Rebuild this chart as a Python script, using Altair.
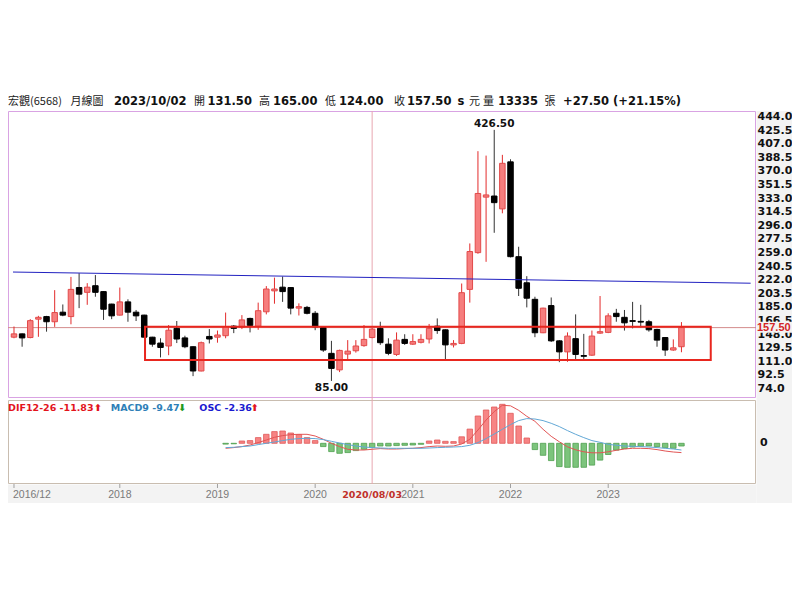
import altair as alt
import pandas as pd
import numpy as np

# ---------------- data (monthly candles 2016/12 .. 2023/10) ----------------
first_month = "2016-12-01"
opens = [144.5,149,144,169,172.5,165.5,178.5,172.5,212,205.5,
         214.5,206.5,189.5,174.5,192.5,178.5,174.5,144.5,136.5,132.5,
         156.5,143.5,131.5,98.5,145.5,144.5,146.5,159.5,158,170,
         159.5,179,207.5,212.5,212,184,185,177,157.5,122.5,
         100,121.5,126,133,144,156.5,135,121,141.5,135,
         137.5,142,159.5,154.5,134,136,209.5,259.5,335,336.5,
         319,383,254,218.5,196,150.5,187.5,139.5,124.5,142.5,
         119.5,120,150,151,177,171.5,167,166,165.5,155,
         144,127,131.5]
highs = [159,149.5,169,173.5,173.5,208.5,189,226.5,231.5,218,
         229,207,190,212,196,181.5,175,145,143,161,
         166.5,146.5,132,138.5,155.5,153.5,178,161,174.5,171,
         191.5,214,225.5,227,212.5,190.5,187,180,158,139.5,
         127.5,140.5,140.5,161,157,165.5,143,151,148.5,148.5,
         148.5,162.5,170,155,140.5,217.5,272,397.5,391.5,426.5,
         392.5,386.5,267.5,227.5,199.5,184.5,198.5,140.5,151,175.5,
         149,153.5,200.5,177,183,181.5,192.5,188.5,168,156,
         144.5,141.5,165]
lows = [143,131.5,143,145,152,158.5,173,162,184,188.5,
        199.5,168,169,174,165.5,166.5,144,131.5,117,120,
        136.5,129.5,91.5,98,136,137,143,150,155.5,151,
        154.5,175.5,190,192.5,175.5,174,175.5,154,124.5,85,
        97,113.5,123.5,131.5,143,134,120,119,134,134,
        136,136,149,112.5,130.5,135,191.5,258,247,286.5,
        313,253,200.5,185,144.5,150,138,110.5,111,113.5,
        114,119,149,150,165.5,153.5,156.5,158,152,131.5,
        119,126,124]
closes = [149,143.5,167,171.5,165.5,178,174.5,209.5,203,212.5,
          205.5,182.5,173.5,192.5,178.5,173.5,144.5,135,130.5,154,
          142,131.5,98.5,137,142,147.5,158.5,156.5,168,160.5,
          180.5,210,210,206.5,184,186,177,158.5,127,102,
          126.5,125.5,132.5,141.5,155.5,137,122.5,140.5,136,138.5,
          141.5,156.5,153.5,134,136,205,261,340,338,327.5,
          381,254,211,197.5,150.5,184,139.5,124.5,146,121,
          118.5,146,152,173.5,172.5,164,166,165,154.5,140.5,
          127,130,157.5]

# MACD panel (starts at month index 26)
macd_start = 26
dif = [-5,-4.3,-3.3,-1.7,0.7,3.3,6,7.7,8.7,9,9,7.3,4,0,-3.3,-6,-6.7,-6.7,-6,-5.3,
       -5.7,-5.7,-5.3,-5,-4.3,-3.3,-2.7,-3,-2.7,-0.7,4,13.3,23.3,31.7,38,37.5,33,27,22,14,
       7,1.5,-3.5,-6.5,-8.5,-9.5,-9.5,-8.5,-7,-5.7,-5,-5,-5.3,-6.3,-7.7,-8.7,-9.3]
macd9 = [-4.3,-4,-3.3,-2.7,-1.3,0,1.3,2.7,4,4.7,5,4.7,3.7,2,0.3,-1.3,-2.7,-3.7,-4.3,-4.7,
         -5,-5,-5,-5,-5,-4.7,-4.3,-4,-3.7,-3.3,-2,0.7,4.7,9.3,14,18.7,22.7,24.7,24.3,22.7,
         20,16.7,12.7,9,5.7,2.7,1,-1,-2,-2.7,-3,-3.3,-3.7,-4.3,-5,-5.7,-6.7]
osc = [-0.8,-0.5,2.3,2.7,5.7,9,11.7,12.3,10.3,8.7,5.7,2.7,-3.3,-8.3,-10,-9.3,-7.3,-6,-4.3,-2.7,
       -2.7,-2.3,-2,-1.7,-1,2.3,3.3,2,1.7,6.5,14.2,27.3,33.3,36.3,39,30,17.3,5.3,-6.3,-12,
       -17.3,-23.3,-24,-24,-24,-21.8,-16.8,-11.2,-6.8,-5.3,-3.7,-3,-2.7,-3.3,-4.3,-5,-2.7]

# overlays
trend_idx = [-0.12, 90.5]
trend_price = [233.1, 217.9]
box_idx = [16.1, 85.6]
box_price = [113.4, 158.7]
cross_idx = 44
cross_label = "2020/08/03"

y_tick_values = [444.0, 425.5, 407.0, 388.5, 370.0, 351.5, 333.0, 314.5, 296.0, 277.5, 259.0,
                 240.5, 222.0, 203.5, 185.0, 166.5, 148.0, 129.5, 111.0, 92.5, 74.0]
x_tick_idx = [0, 13, 25, 37, 49, 61, 73]
x_tick_labels = ["2016/12", "2018", "2019", "2020", "2021", "2022", "2023"]

title_texts = ["宏觀(6568)", "月線圖", "2023/10/02", "開", "131.50", "高", "165.00", "低", "124.00",
               "收", "157.50", "s", "元", "量", "13335", "張", "+27.50 (+21.15%)"]
title_bold = [False, False, True, False, True, False, True, False, True,
              False, True, True, False, False, True, False, True]
title_x = [0, 62.5, 106, 186, 199.5, 251, 265, 317, 331, 386, 399, 449.5, 461, 475, 490, 536.5, 555]

legend_texts = ["DIF12-26 -11.83", "⬆", "MACD9 -9.47", "⬇", "OSC -2.36", "⬆"]
legend_colors = ["#e3141c", "#e3141c", "#2f7fb8", "#1e9a1e", "#1a1ad0", "#e3141c"]
legend_x = [0, 86, 102.7, 170.3, 191.3, 242.7]

# ---------------- frames ----------------
months = pd.date_range(first_month, periods=len(opens), freq="MS").strftime("%Y/%m").tolist()
df = pd.DataFrame({"i": list(range(len(opens))), "month": months, "open": opens,
                   "high": highs, "low": lows, "close": closes})
mdf = pd.DataFrame({"i": list(range(macd_start, macd_start + len(dif))),
                    "dif": dif, "macd": macd9, "osc": osc})

# layout (pixels inside the plot area)
W = 748          # plot width
PH = 287         # price panel height
GAP = 2
MH = 84          # macd panel height
TOT = PH + GAP + MH
PAD_R = 36
BG = "#f3f3f3"

XS = alt.Scale(domain=[-0.121, 90.545], nice=False, zero=False)
YS = alt.Scale(domain=[61.76, 452.16], range=[PH, 0], nice=False, zero=False)
MYS = alt.Scale(domain=[-40.7, 43.3], range=[TOT, PH + GAP], nice=False, zero=False)
one = pd.DataFrame({"k": [0]})


def xi(field="i"):
    return alt.X(f"{field}:Q", scale=XS, axis=None)


def yp(field):
    return alt.Y(f"{field}:Q", scale=YS, axis=None)


def ym(field):
    return alt.Y(f"{field}:Q", scale=MYS, axis=None)


layers = []

# backgrounds of axis areas
layers.append(alt.Chart(one).mark_rect(color=BG).encode(
    x=alt.value(W + 0.5), x2=alt.value(W + PAD_R), y=alt.value(0), y2=alt.value(TOT + 19)))
layers.append(alt.Chart(one).mark_rect(color=BG).encode(
    x=alt.value(0), x2=alt.value(W + 0.5), y=alt.value(TOT + 0.5), y2=alt.value(TOT + 19)))

# panel frames
layers.append(alt.Chart(one).mark_rect(fillOpacity=0, stroke="#d9a3e3", strokeWidth=1).encode(
    x=alt.value(0.5), x2=alt.value(W - 0.5), y=alt.value(0.5), y2=alt.value(PH - 0.5)))
layers.append(alt.Chart(one).mark_rect(fillOpacity=0, stroke="#c9bdb0", strokeWidth=1).encode(
    x=alt.value(0.5), x2=alt.value(W - 0.5), y=alt.value(PH + GAP + 0.5), y2=alt.value(TOT - 0.5)))

# ---------------- price panel ----------------
up = "datum.close >= datum.open"
last_close = closes[-1]

layers.append(alt.Chart(pd.DataFrame({"p": [last_close]})).mark_rule(
    color="#d48c8c", strokeWidth=1).encode(y=yp("p")))
layers.append(alt.Chart(pd.DataFrame({"i": [cross_idx]})).mark_rule(
    color="#e8a6b0", strokeWidth=1).encode(x=xi(), y=alt.value(0), y2=alt.value(TOT)))
layers.append(alt.Chart(df).mark_rule(strokeWidth=1).encode(
    x=xi(), y=yp("low"), y2="high:Q",
    color=alt.condition(up, alt.value("#e32b2b"), alt.value("#333333"))))
layers.append(alt.Chart(df).mark_bar(size=5.5, strokeWidth=1).encode(
    x=xi(), y=yp("open"), y2="close:Q",
    fill=alt.condition(up, alt.value("#f67e7e"), alt.value("#000000")),
    stroke=alt.condition(up, alt.value("#e24a4a"), alt.value("#000000"))))
layers.append(alt.Chart(pd.DataFrame({"x0": [box_idx[0]], "x1": [box_idx[1]],
                                      "p0": [box_price[0]], "p1": [box_price[1]]})).mark_rect(
    fillOpacity=0, stroke="#e8261e", strokeWidth=2).encode(
    x=xi("x0"), x2="x1:Q", y=yp("p0"), y2="p1:Q"))
layers.append(alt.Chart(pd.DataFrame({"i": trend_idx, "p": trend_price})).mark_line(
    color="#2222c0", strokeWidth=1).encode(x=xi(), y=yp("p")))

hi_i = int(np.argmax(highs))
lo_i = int(np.argmin(lows))
layers.append(alt.Chart(pd.DataFrame({"i": [hi_i], "p": [highs[hi_i]], "t": [f"{highs[hi_i]:.2f}"]})).mark_text(
    font="DejaVu Sans", fontWeight="bold", fontSize=10.5, color="#111", baseline="bottom", dy=-1).encode(
    x=xi(), y=yp("p"), text="t:N"))
layers.append(alt.Chart(pd.DataFrame({"i": [lo_i], "p": [lows[lo_i]], "t": [f"{lows[lo_i]:.2f}"]})).mark_text(
    font="DejaVu Sans", fontWeight="bold", fontSize=10.5, color="#111", baseline="top", dy=2).encode(
    x=xi(), y=yp("p"), text="t:N"))

# right price labels
yt = pd.DataFrame({"v": y_tick_values, "label": [f"{v:.1f}" for v in y_tick_values]})
layers.append(alt.Chart(yt).mark_text(align="left", baseline="middle", font="DejaVu Sans",
                                      fontWeight="bold", fontSize=11, color="#111").encode(
    x=alt.value(W + 1.5), y=yp("v"), text="label:N"))
layers.append(alt.Chart(pd.DataFrame({"a": [last_close + 8], "b": [last_close - 7]})).mark_rect(color=BG).encode(
    x=alt.value(W + 0.5), x2=alt.value(W + PAD_R), y=yp("a"), y2="b:Q"))
layers.append(alt.Chart(pd.DataFrame({"p": [last_close], "t": [f"{last_close:.2f}"]})).mark_text(
    align="left", baseline="middle", font="Liberation Sans", fontWeight="bold", fontSize=11,
    color="#d42424").encode(x=alt.value(W + 1), y=yp("p"), text="t:N"))

# ---------------- MACD panel ----------------
layers.append(alt.Chart(mdf).mark_bar(size=5.5, strokeWidth=0.8).encode(
    x=xi(), y=ym("osc"), y2=alt.datum(0),
    fill=alt.condition("datum.osc >= 0", alt.value("#f78484"), alt.value("#7cc47c")),
    stroke=alt.condition("datum.osc >= 0", alt.value("#e05a5a"), alt.value("#4f9f4f"))))
layers.append(alt.Chart(mdf).mark_line(color="#e25555", strokeWidth=1).encode(x=xi(), y=ym("dif")))
layers.append(alt.Chart(mdf).mark_line(color="#62a8d6", strokeWidth=1).encode(x=xi(), y=ym("macd")))
layers.append(alt.Chart(pd.DataFrame({"z": [0], "t": ["0"]})).mark_text(
    align="left", baseline="middle", font="DejaVu Sans", fontWeight="bold", fontSize=11,
    color="#111").encode(x=alt.value(W + 4), y=ym("z"), text="t:N"))

for t, c, xv in zip(legend_texts, legend_colors, legend_x):
    layers.append(alt.Chart(pd.DataFrame({"t": [t]})).mark_text(
        align="left", baseline="middle", font="DejaVu Sans", fontWeight="bold",
        fontSize=9.5, color=c).encode(x=alt.value(xv), y=alt.value(PH + GAP + 8), text="t:N"))

# ---------------- time axis ----------------
xt = pd.DataFrame({"i": x_tick_idx, "t": x_tick_labels})
layers.append(alt.Chart(xt).mark_rule(color="#a0a0a0", strokeWidth=1).encode(
    x=xi(), y=alt.value(TOT), y2=alt.value(TOT + 4)))
layers.append(alt.Chart(xt.iloc[:1]).mark_text(
    align="left", baseline="middle", font="Liberation Sans", fontSize=10.5, color="#7a7a7a", dx=-1).encode(
    x=xi(), y=alt.value(TOT + 11), text="t:N"))
layers.append(alt.Chart(xt.iloc[1:]).mark_text(
    align="center", baseline="middle", font="Liberation Sans", fontSize=10.5, color="#7a7a7a").encode(
    x=xi(), y=alt.value(TOT + 11), text="t:N"))
layers.append(alt.Chart(pd.DataFrame({"i": [cross_idx], "t": [cross_label]})).mark_text(
    align="center", baseline="middle", font="DejaVu Sans", fontWeight="bold", fontSize=9.5,
    color="#c0302a").encode(x=xi(), y=alt.value(TOT + 11), text="t:N"))

# ---------------- title row ----------------
for t, b, xv in zip(title_texts, title_bold, title_x):
    if b:
        mk = alt.Chart(pd.DataFrame({"t": [t]})).mark_text(
            align="left", baseline="middle", font="DejaVu Sans", fontWeight="bold",
            fontSize=11.5, color="#111")
    else:
        mk = alt.Chart(pd.DataFrame({"t": [t]})).mark_text(
            align="left", baseline="middle", font="Noto Sans CJK TC", fontWeight="normal",
            fontSize=11, color="#222")
    layers.append(mk.encode(x=alt.value(xv), y=alt.value(-9), text="t:N"))

chart = alt.layer(*layers).resolve_scale(y="independent").properties(
    width=W, height=TOT,
    autosize=alt.AutoSizeParams(type="none"),
    padding={"left": 0, "right": PAD_R, "top": 103, "bottom": 30},
    background="white",
).configure_view(stroke="transparent")

chart.save("out.html", embed_options={"renderer": "svg", "actions": False})
